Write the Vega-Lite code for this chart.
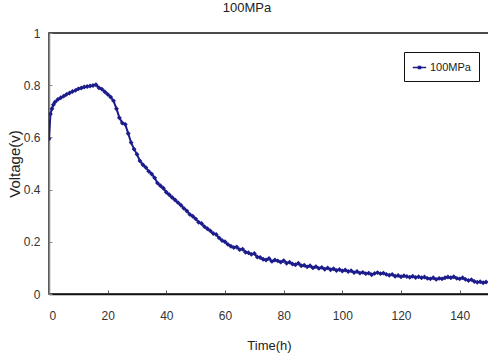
{
  "$schema": "https://vega.github.io/schema/vega-lite/v6.json",
  "width": 440,
  "height": 261,
  "autosize": {"type": "none"},
  "padding": {"left": 49, "top": 33, "right": 0, "bottom": 64},
  "background": "white",
  "title": {"text": "100MPa", "fontSize": 13, "font": "Liberation Sans", "fontWeight": "normal", "color": "#222", "offset": 12, "anchor": "middle", "dx": -22},
  "config": {
    "view": {"stroke": "#111", "strokeWidth": 1.5},
    "font": "Liberation Sans"
  },
  "data": {"values": [
    {"t":0,"v":0.595},{"t":0.5,"v":0.69},{"t":1,"v":0.71},{"t":1.5,"v":0.725},{"t":2,"v":0.735},{"t":3,"v":0.745},{"t":4,"v":0.752},{"t":5,"v":0.758},{"t":6,"v":0.765},{"t":7,"v":0.77},{"t":8,"v":0.776},{"t":9,"v":0.78},{"t":10,"v":0.786},{"t":11,"v":0.789},{"t":12,"v":0.793},{"t":13,"v":0.795},{"t":14,"v":0.797},{"t":15,"v":0.799},{"t":16,"v":0.802},{"t":17,"v":0.79},{"t":18,"v":0.785},{"t":19,"v":0.775},{"t":20,"v":0.765},{"t":21,"v":0.755},{"t":22,"v":0.74},{"t":23,"v":0.71},{"t":24,"v":0.675},{"t":25,"v":0.655},{"t":26,"v":0.65},{"t":27,"v":0.615},{"t":28,"v":0.58},{"t":29,"v":0.555},{"t":30,"v":0.535},{"t":31,"v":0.51},{"t":32,"v":0.495},{"t":33,"v":0.485},{"t":34,"v":0.47},{"t":35,"v":0.46},{"t":36,"v":0.445},{"t":37,"v":0.425},{"t":38,"v":0.415},{"t":39,"v":0.405},{"t":40,"v":0.39},{"t":41,"v":0.38},{"t":42,"v":0.37},{"t":43,"v":0.36},{"t":44,"v":0.35},{"t":45,"v":0.34},{"t":46,"v":0.328},{"t":47,"v":0.318},{"t":48,"v":0.305},{"t":49,"v":0.298},{"t":50,"v":0.288},{"t":51,"v":0.275},{"t":52,"v":0.27},{"t":53,"v":0.258},{"t":54,"v":0.25},{"t":55,"v":0.242},{"t":56,"v":0.232},{"t":57,"v":0.228},{"t":58,"v":0.215},{"t":59,"v":0.205},{"t":60,"v":0.2},{"t":61,"v":0.19},{"t":62,"v":0.183},{"t":63,"v":0.178},{"t":64,"v":0.18},{"t":65,"v":0.17},{"t":66,"v":0.172},{"t":67,"v":0.16},{"t":68,"v":0.158},{"t":69,"v":0.152},{"t":70,"v":0.155},{"t":71,"v":0.142},{"t":72,"v":0.14},{"t":73,"v":0.133},{"t":74,"v":0.13},{"t":75,"v":0.136},{"t":76,"v":0.125},{"t":77,"v":0.13},{"t":78,"v":0.127},{"t":79,"v":0.122},{"t":80,"v":0.128},{"t":81,"v":0.118},{"t":82,"v":0.122},{"t":83,"v":0.115},{"t":84,"v":0.112},{"t":85,"v":0.118},{"t":86,"v":0.108},{"t":87,"v":0.11},{"t":88,"v":0.104},{"t":89,"v":0.108},{"t":90,"v":0.1},{"t":91,"v":0.105},{"t":92,"v":0.098},{"t":93,"v":0.102},{"t":94,"v":0.095},{"t":95,"v":0.1},{"t":96,"v":0.093},{"t":97,"v":0.097},{"t":98,"v":0.09},{"t":99,"v":0.094},{"t":100,"v":0.088},{"t":101,"v":0.092},{"t":102,"v":0.086},{"t":103,"v":0.089},{"t":104,"v":0.082},{"t":105,"v":0.086},{"t":106,"v":0.08},{"t":107,"v":0.083},{"t":108,"v":0.078},{"t":109,"v":0.08},{"t":110,"v":0.074},{"t":111,"v":0.079},{"t":112,"v":0.082},{"t":113,"v":0.078},{"t":114,"v":0.08},{"t":115,"v":0.075},{"t":116,"v":0.072},{"t":117,"v":0.075},{"t":118,"v":0.068},{"t":119,"v":0.071},{"t":120,"v":0.066},{"t":121,"v":0.07},{"t":122,"v":0.067},{"t":123,"v":0.064},{"t":124,"v":0.068},{"t":125,"v":0.063},{"t":126,"v":0.066},{"t":127,"v":0.062},{"t":128,"v":0.065},{"t":129,"v":0.06},{"t":130,"v":0.058},{"t":131,"v":0.062},{"t":132,"v":0.056},{"t":133,"v":0.06},{"t":134,"v":0.058},{"t":135,"v":0.062},{"t":136,"v":0.065},{"t":137,"v":0.062},{"t":138,"v":0.066},{"t":139,"v":0.06},{"t":140,"v":0.058},{"t":141,"v":0.062},{"t":142,"v":0.056},{"t":143,"v":0.052},{"t":144,"v":0.055},{"t":145,"v":0.048},{"t":146,"v":0.045},{"t":147,"v":0.047},{"t":148,"v":0.043},{"t":149,"v":0.046}
  ]},
  "mark": {"type": "line", "strokeWidth": 2, "point": {"shape": "diamond", "size": 24, "filled": true}, "clip": true},
  "encoding": {
    "x": {"field": "t", "type": "quantitative", "scale": {"domain": [0, 150], "nice": false},
      "axis": {"title": "Time(h)", "values": [0,20,40,60,80,100,120,140], "grid": false, "tickSize": -4, "tickColor": "#555", "domainColor": "#111", "domainWidth": 1.5, "labelFontSize": 12, "labelColor": "#333", "labelPadding": 20, "titleFontSize": 13, "titleFontWeight": "normal", "titleColor": "#222", "titlePadding": 18}},
    "y": {"field": "v", "type": "quantitative", "scale": {"domain": [0, 1], "nice": false},
      "axis": {"title": "Voltage(v)", "values": [0,0.2,0.4,0.6,0.8,1], "format": "~g", "grid": false, "tickSize": -3, "tickColor": "#888", "domainColor": "#888", "domainWidth": 1.5, "labelFontSize": 12, "labelColor": "#333", "labelPadding": 12, "titleFontSize": 15, "titleFontWeight": "normal", "titleColor": "#222", "titlePadding": 1}},
    "color": {"datum": "100MPa", "type": "nominal", "scale": {"range": ["#1c1c8c"]},
      "legend": {"title": null, "orient": "none", "legendX": 355, "legendY": 19, "strokeColor": "#111", "fillColor": "white", "padding": 8, "labelFontSize": 11, "labelColor": "#222", "labelOffset": 3, "symbolType": "M-1,0H1M-0.15,-0.15H0.15V0.15H-0.15Z", "symbolSize": 180, "symbolStrokeWidth": 1.5, "symbolFillColor": "#1c1c8c", "symbolStrokeColor": "#1c1c8c"}}
  }
}
